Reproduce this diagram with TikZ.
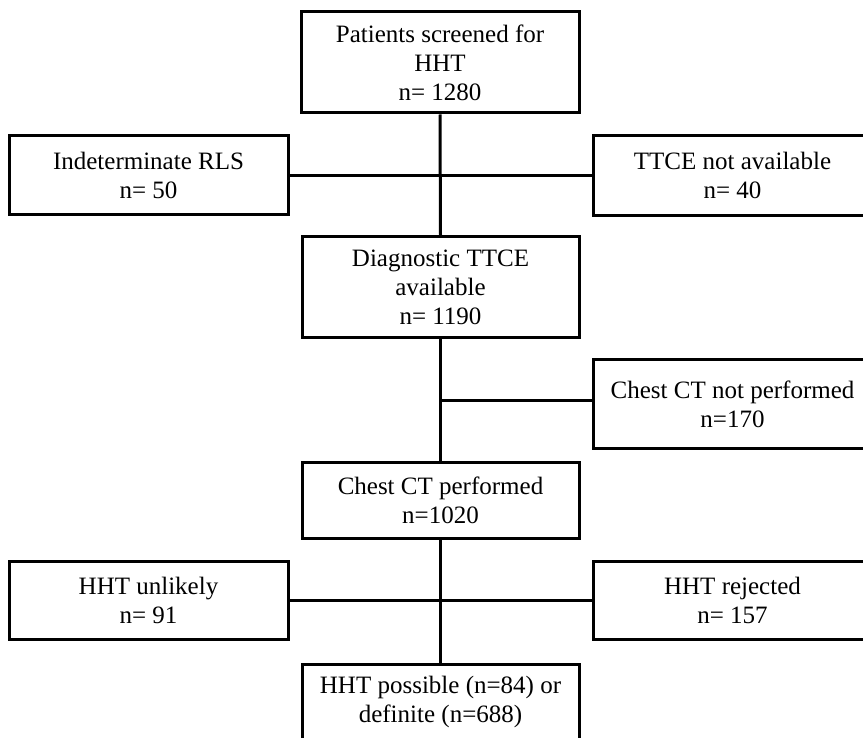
\documentclass[tikz,border=0pt]{standalone}
\usepackage{fontspec}
\setmainfont{Liberation Serif}
\begin{document}
\begin{tikzpicture}[x=1pt,y=-1pt,
  box/.style={draw=black, line width=3pt, rectangle, inner sep=0pt, align=center,
    font=\fontsize{25}{29}\selectfont},
  txt/.style={inner sep=0pt, align=center, font=\fontsize{25}{29}\selectfont},
  conn/.style={draw=black, line width=3pt}]
\useasboundingbox (0,0) rectangle (863,738);
\clip (0,0) rectangle (863,738);
\fill[white] (0,0) rectangle (863,738);

\node[box, minimum width=278pt, minimum height=101pt] (top) at (440,62.5)
  {Patients screened for\\HHT\\n= 1280};
\node[box, minimum width=279pt, minimum height=79pt] (left1) at (148.5,175.5)
  {Indeterminate RLS\\n= 50};
\node[box, minimum width=279pt, minimum height=80pt] (right1) at (732.5,175.5)
  {TTCE not available\\n= 40};
\node[box, minimum width=277pt, minimum height=101pt] (diag) at (440.5,287.5)
  {Diagnostic TTCE\\available\\n= 1190};
\node[box, minimum width=279pt, minimum height=88pt] (ctnp) at (732.5,404)
  {Chest CT not performed\\n=170};
\node[box, minimum width=277pt, minimum height=76pt] (ctp) at (440.5,500)
  {Chest CT performed\\n=1020};
\node[box, minimum width=279pt, minimum height=78pt] (unlikely) at (148.5,600)
  {HHT unlikely\\n= 91};
\node[box, minimum width=279pt, minimum height=78pt] (rejected) at (732.5,600)
  {HHT rejected\\n= 157};
\node[box, minimum width=277pt, minimum height=101pt, anchor=north] (final) at (440.5,663) {};
\node[txt, anchor=north] (finaltext) at ([yshift=-13pt]final.north)
  {HHT possible (n=84) or\\definite (n=688)};

\draw[conn] (top.south) -- (diag.north);
\draw[conn] (left1.east) -- (left1.east -| right1.west);
\draw[conn] (diag.south) -- (ctp.north);
\draw[conn] ([yshift=4pt]ctnp.west) -- ([yshift=4pt]ctnp.west -| diag.south);
\draw[conn] (ctp.south) -- (final.north);
\draw[conn] (unlikely.east) -- (rejected.west);
\end{tikzpicture}
\end{document}
